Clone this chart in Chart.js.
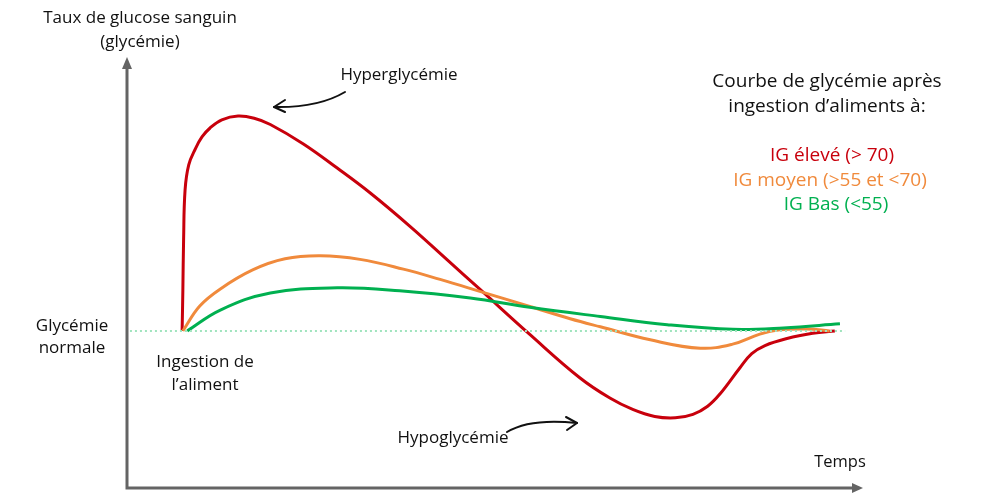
<!DOCTYPE html>
<html><head><meta charset="utf-8">
<script src="https://cdn.jsdelivr.net/npm/chart.js@4.4.1/dist/chart.umd.min.js"></script>
<style>html,body{margin:0;padding:0;background:#fff;}canvas{display:block;}</style>
</head><body>
<canvas id="c" width="1006" height="496"></canvas>
<script>
// Time (arbitrary units) and glycaemia relative to normal (arbitrary units)
const redX   = [7.5,7.6,7.7,7.9,8.4,9.3,10.2,11.3,12.9,15.1,17.3,19.5,24.0,28.6,33.1,38.5,43.5,48.0,54.8,61.6,65.7,68.8,71.8,74.6,77.0,79.0,80.7,83.4,85.0,86.8,89.8,93.3,96.3];
const redY   = [0,15.1,33.6,52.0,61.3,67.2,71.6,74.9,77.9,79.3,78.5,76.2,69.0,60.1,50.9,38.6,26.4,15.4,-1.3,-17.3,-24.8,-29.0,-31.6,-32.1,-30.8,-27.8,-23.2,-13.6,-8.4,-5.4,-2.8,-0.9,0];
const orangeX = [7.6,9.9,12.7,17.1,21.5,26.3,31.7,37.6,42.6,48.0,54.8,60.3,64.4,71.2,78.0,82.4,86.1,88.8,92.5,95.6];
const orangeY = [0,9.2,15.5,22.5,26.6,27.7,26.4,22.8,19.0,14.6,9.0,4.5,1.5,-3.3,-6.4,-4.9,-1.2,0.4,0.7,0];
const greenX = [8.2,12.7,19.5,28.6,37.1,46.7,54.8,64.4,73.5,82.4,89.3,97.0];
const greenY = [0,7.7,14.0,15.9,14.8,12.1,8.7,5.3,2.3,0.6,1.1,2.6];
const normalX = [0.4,97.7];
const normalY = [0,0];
const seriesNames = ["IG élevé (> 70)","IG moyen (>55 et <70)","IG Bas (<55)"];
const yTitle = ["Taux de glucose sanguin","(glycémie)"];
const xTitle = "Temps";

const RED='rgb(200,0,12)', ORANGE='rgb(240,138,60)', GREEN='rgb(0,176,80)';
const FONT='"Open Sans", Lato, sans-serif';
const pts=(xs,ys)=>xs.map((x,i)=>({x:x,y:ys[i]}));

const deco = {
  id:'deco',
  afterDraw(chart){
    const c=chart.ctx, a=chart.chartArea;
    c.save();
    // axes
    c.strokeStyle='rgb(100,100,100)'; c.fillStyle='rgb(100,100,100)'; c.lineWidth=3;
    c.beginPath(); c.moveTo(a.left,a.top+8); c.lineTo(a.left,a.bottom); c.lineTo(a.right-8,a.bottom); c.stroke();
    c.beginPath(); c.moveTo(a.left,a.top-3); c.lineTo(a.left-5,a.top+9); c.lineTo(a.left+5,a.top+9); c.closePath(); c.fill();
    c.beginPath(); c.moveTo(a.right+1,a.bottom); c.lineTo(a.right-10,a.bottom-5); c.lineTo(a.right-10,a.bottom+5); c.closePath(); c.fill();
    // texts
    c.textAlign='center'; c.textBaseline='middle';
    const t=(s,x,y,sz,col)=>{c.font='500 '+sz+'px '+FONT; c.fillStyle=col||'#111'; c.fillText(s,x,y);};
    t(yTitle[0],140,18,17); t(yTitle[1],140,42,17);
    t('Hyperglycémie',399,75,17);
    t('Courbe de glycémie après',827,82,19); t('ingestion d\u2019aliments à:',827,107,19);
    t(seriesNames[0],832,156,19,RED); t(seriesNames[1],830,181,19,ORANGE); t(seriesNames[2],836,205,19,GREEN);
    t('Glycémie',72,326,17); t('normale',72,348,17);
    t('Ingestion de',205,362,17); t('l\u2019aliment',205,385,17);
    t('Hypoglycémie',453,438,17);
    t(xTitle,840,462,16.5);
    // annotation arrows
    c.strokeStyle='#111'; c.lineWidth=2; c.lineCap='round'; c.lineJoin='round';
    c.beginPath(); c.moveTo(345,92); c.quadraticCurveTo(318,108,274,107); c.stroke();
    c.beginPath(); c.moveTo(285,100); c.lineTo(274,107); c.lineTo(285,112); c.stroke();
    c.beginPath(); c.moveTo(507,432); c.quadraticCurveTo(530,418,577,423); c.stroke();
    c.beginPath(); c.moveTo(566,417); c.lineTo(577,423); c.lineTo(567,430); c.stroke();
    c.restore();
  }
};

new Chart(document.getElementById('c'),{
  type:'line',
  data:{datasets:[
    {label:'Glycémie normale',data:pts(normalX,normalY),borderColor:'rgb(160,228,190)',borderWidth:2,borderDash:[2,3],pointRadius:0,tension:0},
    {label:seriesNames[2],data:pts(greenX,greenY),borderColor:GREEN,borderWidth:3,pointRadius:0,tension:0.4},
    {label:seriesNames[1],data:pts(orangeX,orangeY),borderColor:ORANGE,borderWidth:3,pointRadius:0,tension:0.4},
    {label:seriesNames[0],data:pts(redX,redY),borderColor:RED,borderWidth:3,pointRadius:0,tension:0.4}
  ]},
  options:{
    responsive:false, animation:false, events:[],
    layout:{padding:{left:127,right:144,top:60,bottom:8}},
    scales:{
      x:{type:'linear',min:0,max:100,display:false},
      y:{type:'linear',min:-58,max:100,display:false}
    },
    plugins:{legend:{display:false},tooltip:{enabled:false}}
  },
  plugins:[deco]
});
</script>
</body></html>
